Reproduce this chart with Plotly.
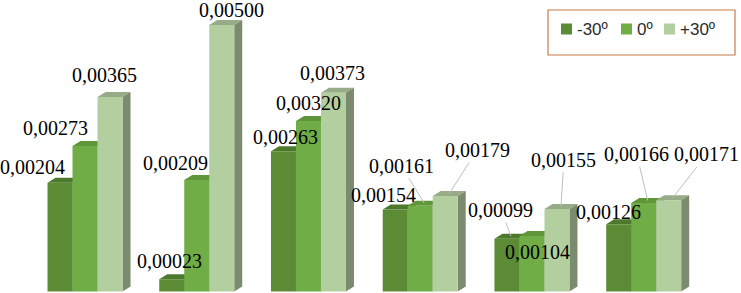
import plotly.graph_objects as go

# ---- data ----
groups = ["1", "2", "3", "4", "5", "6"]
series_names = ["-30º", "0º", "+30º"]
vals_m30 = [0.00204, 0.00023, 0.00263, 0.00154, 0.00099, 0.00126]
vals_0 = [0.00273, 0.00209, 0.00320, 0.00161, 0.00104, 0.00166]
vals_p30 = [0.00365, 0.00500, 0.00373, 0.00179, 0.00155, 0.00171]
labels_m30 = ["0,00204", "0,00023", "0,00263", "0,00154", "0,00099", "0,00126"]
labels_0 = ["0,00273", "0,00209", "0,00320", "0,00161", "0,00104", "0,00166"]
labels_p30 = ["0,00365", "0,00500", "0,00373", "0,00179", "0,00155", "0,00171"]

# ---- styling ----
W, H = 741, 293
front_cols = ["#5b8c35", "#70ad47", "#b3cf9f"]
top_cols = ["#4c792c", "#5f963a", "#97ab88"]
side_cols = ["#3f6524", "#4f7f30", "#7b8b6d"]
px_per_group = 111.74
mid0_px = 85.0
px_per_unit = 53300.0
base_px = 291.5
bar_w = 25.0 / px_per_group
dx = 8.0 / px_per_group
dy = 5.0 / px_per_unit

xr = [-mid0_px / px_per_group, (W - mid0_px) / px_per_group]
yr = [-(H - base_px) / px_per_unit, base_px / px_per_unit]

# label offsets in px relative to bar top front-center: (dx, dy, leader)
offs = [
    [(-28, -16, 0), (-2, -18, 0), (2, -14, 0), (-12, -14, 0), (-6, -29, 1), (-10, -12, 0)],
    [(-30, -18, 0), (-21, -17, 0), (0, -18, 0), (-19, -40, 1), (6, 16, 0), (-7, -49, 1)],
    [(-6, -22, 0), (10, -15, 0), (-1, -20, 0), (32, -46, 1), (7, -49, 1), (38, -46, 1)],
]

all_vals = [vals_m30, vals_0, vals_p30]
all_labels = [labels_m30, labels_0, labels_p30]
label_font = dict(family="Liberation Serif", size=20, color="#000000")

fig = go.Figure()
shapes = []
annotations = []
for s, (vals, name) in enumerate(zip(all_vals, series_names)):
    xs = [i + (s - 1) * bar_w for i in range(len(groups))]
    fig.add_trace(go.Bar(
        x=xs, y=vals, width=bar_w, name=name,
        marker=dict(color=front_cols[s], line=dict(width=0)),
        hoverinfo="skip", showlegend=False,
    ))
    for i, (xc, v) in enumerate(zip(xs, vals)):
        x0 = xc - bar_w / 2
        x1 = xc + bar_w / 2
        shapes.append(dict(
            type="path", xref="x", yref="y", layer="below",
            path=f"M{x0},{v} L{x1},{v} L{x1+dx},{v+dy} L{x0+dx},{v+dy} Z",
            fillcolor=top_cols[s], line=dict(width=0),
        ))
        shapes.append(dict(
            type="path", xref="x", yref="y", layer="below",
            path=f"M{x1},0 L{x1+dx},{dy} L{x1+dx},{v+dy} L{x1},{v} Z",
            fillcolor=side_cols[s], line=dict(width=0),
        ))
        ox, oy, lead = offs[s][i]
        txt = all_labels[s][i]
        if lead:
            annotations.append(dict(
                x=xc + dx / 2, y=v + dy / 2, xref="x", yref="y",
                text=txt, showarrow=True, arrowhead=0, arrowwidth=1,
                arrowcolor="#bfbfbf", ax=ox - 4, ay=oy + 2.5, standoff=0,
                font=label_font,
            ))
        else:
            annotations.append(dict(
                x=xc, y=v, xref="x", yref="y", text=txt, showarrow=False,
                xanchor="center", yanchor="middle", xshift=ox, yshift=-oy,
                font=label_font,
            ))

# legend (frame, swatches and names)
shapes.append(dict(
    type="rect", xref="paper", yref="paper",
    x0=548 / W, x1=735 / W, y0=1 - 55 / H, y1=1 - 10 / H,
    line=dict(color="#c87a4a", width=1.2), fillcolor="rgba(0,0,0,0)", layer="above",
))
leg_sq_left = [561, 621, 664]
leg_txt_left = [575, 635, 678]
for s, name in enumerate(series_names):
    shapes.append(dict(
        type="rect", xref="paper", yref="paper",
        x0=leg_sq_left[s] / W, x1=(leg_sq_left[s] + 11) / W,
        y0=1 - 34.5 / H, y1=1 - 23.5 / H,
        fillcolor=front_cols[s], line=dict(width=0), layer="above",
    ))
    annotations.append(dict(
        x=leg_txt_left[s] / W, y=1 - 29 / H, xref="paper", yref="paper",
        text=name, showarrow=False, xanchor="left", yanchor="middle",
        font=dict(family="Liberation Sans", size=17, color="#2b2b2b"),
    ))

fig.update_layout(
    width=W, height=H,
    margin=dict(l=0, r=0, t=0, b=0, autoexpand=False),
    paper_bgcolor="white", plot_bgcolor="white",
    barmode="overlay",
    showlegend=False,
    xaxis=dict(range=xr, visible=False, showgrid=False, zeroline=False, fixedrange=True),
    yaxis=dict(range=yr, visible=False, showgrid=False, zeroline=False, fixedrange=True),
    shapes=shapes,
    annotations=annotations,
)

fig.write_html("out.html", config={"displayModeBar": False},
               post_script="document.body.style.margin='0';")
